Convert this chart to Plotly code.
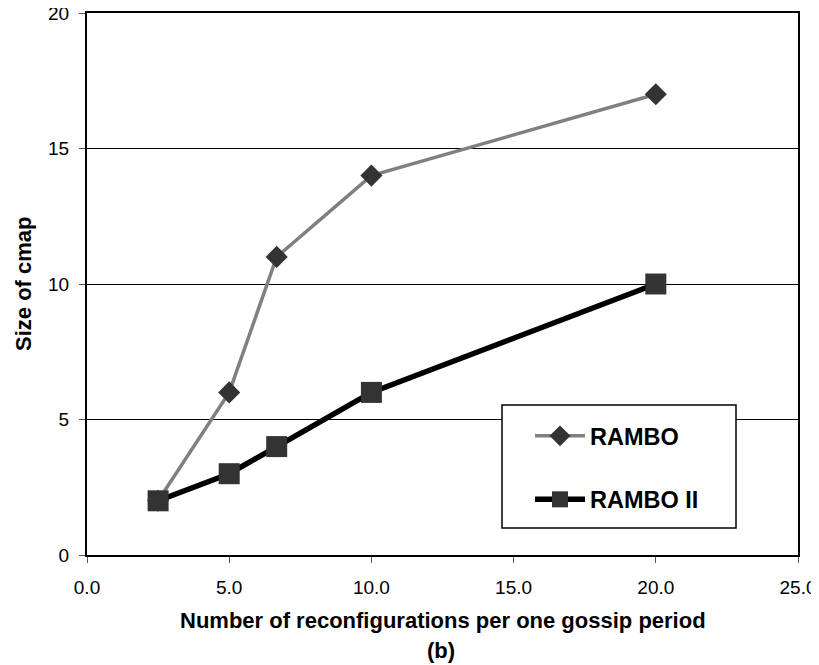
import plotly.graph_objects as go

x_vals = [2.5, 5.0, 6.67, 10.0, 20.0]
rambo = [2, 6, 11, 14, 17]
rambo2 = [2, 3, 4, 6, 10]
series_names = ["RAMBO", "RAMBO II"]
x_title = "Number of reconfigurations per one gossip period"
x_subtitle = "(b)"
y_title = "Size of cmap"
x_ticks = [0, 5, 10, 15, 20, 25]
y_ticks = [0, 5, 10, 15, 20]

FONT = "Liberation Sans, Arial, sans-serif"

# target plot area in screen pixels
PL, PT, PR, PB = 87, 13, 798, 555
OFF = 8  # page body margin
W, H = 819, 665
PW = PR - PL
PH = PB - PT
L = PL - OFF
T = PT - OFF
R = W - L - PW
B = H - T - PH

fig = go.Figure()
fig.add_trace(go.Scatter(
    x=x_vals, y=rambo, name=series_names[0], mode="lines+markers",
    line=dict(color="#808080", width=3.5),
    marker=dict(symbol="diamond", size=17, color="#333333", line=dict(width=0)),
    legendgroup="a",
))
fig.add_trace(go.Scatter(
    x=x_vals, y=rambo2, name=series_names[1], mode="lines+markers",
    line=dict(color="#000000", width=5.5),
    marker=dict(symbol="square", size=21, color="#333333", line=dict(width=0)),
    legendgroup="b",
))

def px_x(p):
    return (p - PL) / PW

def px_y(p):
    return (PB - p) / PH

fig.add_shape(type="rect", xref="paper", yref="paper",
              x0=px_x(502), x1=px_x(736), y0=px_y(528), y1=px_y(405),
              line=dict(color="black", width=1.5), fillcolor="white", layer="above")

fig.update_layout(
    width=W, height=H,
    margin=dict(l=L, r=R, t=T, b=B, autoexpand=False),
    paper_bgcolor="white", plot_bgcolor="white",
    font=dict(family=FONT, color="black"),
    showlegend=True,
    legend=dict(
        x=px_x(530), y=px_y(414), xanchor="left", yanchor="top",
        bgcolor="rgba(0,0,0,0)", borderwidth=0,
        font=dict(family=FONT, size=23.5, color="black", weight="bold"),
        tracegroupgap=30, traceorder="grouped", itemwidth=50,
    ),
    xaxis=dict(
        range=[0, 25], tickvals=x_ticks, ticktext=[f"{v:.1f}" for v in x_ticks],
        showgrid=False, zeroline=False,
        showline=True, linecolor="black", linewidth=2, mirror=True,
        ticks="outside", ticklen=6, tickcolor="#555555", tickwidth=1,
        tickfont=dict(family=FONT, size=19, color="black"),
        ticklabelstandoff=8, automargin=False, ticklabeloverflow="allow",
    ),
    yaxis=dict(
        range=[0, 20], tickvals=y_ticks,
        showgrid=True, gridcolor="black", gridwidth=1, zeroline=False,
        showline=True, linecolor="black", linewidth=2, mirror=True,
        ticks="outside", ticklen=6, tickcolor="#555555", tickwidth=1,
        tickfont=dict(family=FONT, size=19, color="black"),
        ticklabelstandoff=6, automargin=False, ticklabeloverflow="allow",
    ),
    annotations=[
        dict(text=f"<b>{x_title}</b>", xref="paper", yref="paper",
             x=0.5, y=px_y(620), xanchor="center", yanchor="middle",
             showarrow=False, font=dict(family=FONT, size=22, color="black")),
        dict(text=f"<b>{x_subtitle}</b>", xref="paper", yref="paper",
             x=px_x(441), y=px_y(650), xanchor="center", yanchor="middle",
             showarrow=False, font=dict(family=FONT, size=22, color="black")),
        dict(text=f"<b>{y_title}</b>", xref="paper", yref="paper",
             x=px_x(23), y=0.5, xanchor="center", yanchor="middle", textangle=-90,
             showarrow=False, font=dict(family=FONT, size=22, color="black")),
    ],
)

fig.write_html("out.html")
